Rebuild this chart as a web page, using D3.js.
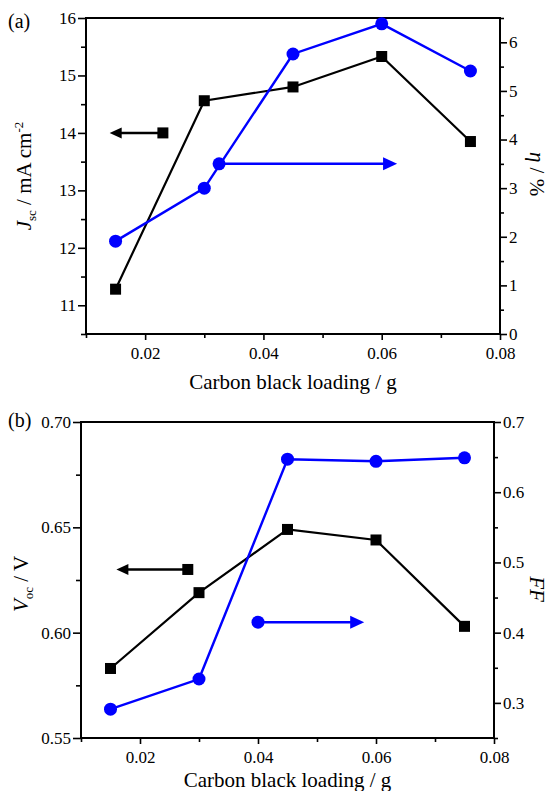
<!DOCTYPE html>
<html><head><meta charset="utf-8">
<script src="https://cdn.jsdelivr.net/npm/d3@7"></script>
<style>body{margin:0;background:#fff}svg{display:block}text{font-family:"Liberation Serif","Times New Roman",serif;fill:#000}</style>
</head><body>
<script>
// ---- data ----
const loading = [0.015, 0.030, 0.045, 0.060, 0.075];
const jsc = [11.28, 14.56, 14.80, 15.33, 13.85];
const eta = [1.91, 3.00, 5.76, 6.38, 5.41];
const voc = [0.583, 0.619, 0.649, 0.644, 0.603];
const ff = [0.291, 0.334, 0.647, 0.644, 0.649];

const xMajor = [0.02, 0.04, 0.06, 0.08];
const xMinor = [0.01, 0.03, 0.05, 0.07];
const jscMajor = [11, 12, 13, 14, 15, 16];
const jscMinor = [10.5, 11.5, 12.5, 13.5, 14.5, 15.5];
const etaMajor = [0, 1, 2, 3, 4, 5, 6];
const etaMinor = [0.5, 1.5, 2.5, 3.5, 4.5, 5.5, 6.5];
const vocMajor = [0.55, 0.60, 0.65, 0.70];
const vocMinor = [0.575, 0.625, 0.675];
const ffMajor = [0.3, 0.4, 0.5, 0.6, 0.7];
const ffMinor = [0.25, 0.35, 0.45, 0.55, 0.65];

// arrow annotations in data units: [fromX, toX, y]
const arrowA_left = [0.0230, 0.0140, 14];
const arrowA_right = [0.0325, 0.0626, 3.5];
const arrowB_left = [0.0281, 0.0160, 0.63];
const arrowB_right = [0.040, 0.0580, 0.415];

const BLUE = "#0000ff";
const svg = d3.select("body").append("svg").attr("width", 550).attr("height", 791);

function panel(o) {
  const x = d3.scaleLinear().domain([0.01, 0.08]).range([o.left, o.right]);
  const yL = d3.scaleLinear().domain(o.yLdom).range([o.bottom, o.top]);
  const yR = d3.scaleLinear().domain(o.yRdom).range([o.bottom, o.top]);
  const g = svg.append("g");

  const style = sel => {
    sel.attr("font-family", "Liberation Serif");
    sel.select(".domain").remove();
    sel.selectAll(".tick line").attr("stroke", "#000").attr("stroke-width", 1.6);
    sel.selectAll(".tick text").attr("font-size", 17).attr("font-family", "Liberation Serif");
  };
  // x axis
  g.append("g").attr("transform", `translate(0,${o.bottom})`)
    .call(d3.axisBottom(x).tickValues(xMajor).tickSize(6).tickPadding(7).tickFormat(d3.format(".2f"))).call(style);
  g.append("g").attr("transform", `translate(0,${o.bottom})`)
    .call(d3.axisBottom(x).tickValues(xMinor).tickSize(4).tickFormat("")).call(style);
  // left
  g.append("g").attr("transform", `translate(${o.left},0)`)
    .call(d3.axisLeft(yL).tickValues(o.lMajor).tickSize(8).tickPadding(2).tickFormat(o.lFmt)).call(style);
  g.append("g").attr("transform", `translate(${o.left},0)`)
    .call(d3.axisLeft(yL).tickValues(o.lMinor).tickSize(5).tickFormat("")).call(style);
  // right
  g.append("g").attr("transform", `translate(${o.right},0)`)
    .call(d3.axisRight(yR).tickValues(o.rMajor).tickSize(7).tickPadding(2).tickFormat(o.rFmt)).call(style);
  g.append("g").attr("transform", `translate(${o.right},0)`)
    .call(d3.axisRight(yR).tickValues(o.rMinor).tickSize(4).tickFormat("")).call(style);
  // frame
  g.append("rect").attr("x", o.left).attr("y", o.top)
    .attr("width", o.right - o.left).attr("height", o.bottom - o.top)
    .attr("fill", "none").attr("stroke", "#000").attr("stroke-width", 2);

  // series
  const lineL = d3.line().x((d, i) => x(loading[i])).y(d => yL(d));
  const lineR = d3.line().x((d, i) => x(loading[i])).y(d => yR(d));
  g.append("path").datum(o.left_vals).attr("d", lineL).attr("fill", "none").attr("stroke", "#000").attr("stroke-width", 2.2);
  g.append("path").datum(o.right_vals).attr("d", lineR).attr("fill", "none").attr("stroke", BLUE).attr("stroke-width", 2.4);
  g.selectAll(".sq").data(o.left_vals).join("rect")
    .attr("x", (d, i) => x(loading[i]) - 5.5).attr("y", d => yL(d) - 5.5)
    .attr("width", 11).attr("height", 11).attr("fill", "#000");
  g.selectAll(".ci").data(o.right_vals).join("circle")
    .attr("cx", (d, i) => x(loading[i])).attr("cy", d => yR(d)).attr("r", 6.5).attr("fill", BLUE);

  // arrows
  const al = o.arrowL, ar = o.arrowR;
  const ly = yL(al[2]), lx0 = x(al[0]), lx1 = x(al[1]);
  g.append("line").attr("x1", lx0).attr("x2", lx1 + 10).attr("y1", ly).attr("y2", ly).attr("stroke", "#000").attr("stroke-width", 2.5);
  g.append("path").attr("d", `M${lx1},${ly}L${lx1 + 12},${ly - 5.5}L${lx1 + 12},${ly + 5.5}Z`).attr("fill", "#000");
  g.append("rect").attr("x", lx0 - 5.5).attr("y", ly - 5.5).attr("width", 11).attr("height", 11).attr("fill", "#000");
  const ry = yR(ar[2]), rx0 = x(ar[0]), rx1 = x(ar[1]);
  g.append("line").attr("x1", rx0).attr("x2", rx1 - 10).attr("y1", ry).attr("y2", ry).attr("stroke", BLUE).attr("stroke-width", 2.5);
  g.append("path").attr("d", `M${rx1},${ry}L${rx1 - 14},${ry - 6.5}L${rx1 - 14},${ry + 6.5}Z`).attr("fill", BLUE);
  g.append("circle").attr("cx", rx0).attr("cy", ry).attr("r", 6.5).attr("fill", BLUE);

  // x title
  g.append("text").attr("x", (o.left + o.right) / 2).attr("y", o.bottom + o.xTitleOff)
    .attr("text-anchor", "middle").attr("font-size", 21).text("Carbon black loading / g");
  // panel label
  g.append("text").attr("x", 8).attr("y", o.top + o.labOff).attr("font-size", 20).text(o.label);
  return {x, yL, yR, g};
}

const A = panel({left: 86, right: 500, top: 18, bottom: 334, yLdom: [10.5, 16], yRdom: [0, 6.5],
  lMajor: jscMajor, lMinor: jscMinor, rMajor: etaMajor, rMinor: etaMinor,
  lFmt: d3.format("d"), rFmt: d3.format("d"), left_vals: jsc, right_vals: eta,
  arrowL: arrowA_left, arrowR: arrowA_right, xTitleOff: 55, label: "(a)", labOff: 10});
const B = panel({left: 81, right: 494, top: 422, bottom: 738, yLdom: [0.55, 0.70], yRdom: [0.25, 0.7],
  lMajor: vocMajor, lMinor: vocMinor, rMajor: ffMajor, rMinor: ffMinor,
  lFmt: d3.format(".2f"), rFmt: d3.format(".1f"), left_vals: voc, right_vals: ff,
  arrowL: arrowB_left, arrowR: arrowB_right, xTitleOff: 49, label: "(b)", labOff: 5});

// y titles
const tA = A.g.append("text").attr("transform", "translate(31,176) rotate(-90)").attr("text-anchor", "middle").attr("font-size", 21);
tA.append("tspan").attr("font-style", "italic").text("J");
tA.append("tspan").attr("font-size", 13).attr("dy", 5).text("sc");
tA.append("tspan").attr("dy", -5).text(" / mA cm");
tA.append("tspan").attr("font-size", 13).attr("dy", -8).text("-2");

const rA = A.g.append("text").attr("transform", "translate(530,174) rotate(90)").attr("text-anchor", "middle").attr("font-size", 21);
rA.append("tspan").attr("font-style", "italic").text("η");
rA.append("tspan").text(" / %");

const tB = B.g.append("text").attr("transform", "translate(28,584) rotate(-90)").attr("text-anchor", "middle").attr("font-size", 21);
tB.append("tspan").attr("font-style", "italic").text("V");
tB.append("tspan").attr("font-size", 13).attr("dy", 5).text("oc");
tB.append("tspan").attr("dy", -5).text(" / V");

B.g.append("text").attr("transform", "translate(530,589) rotate(90)").attr("text-anchor", "middle")
  .attr("font-size", 21).attr("font-style", "italic").text("FF");
</script>
</body></html>
